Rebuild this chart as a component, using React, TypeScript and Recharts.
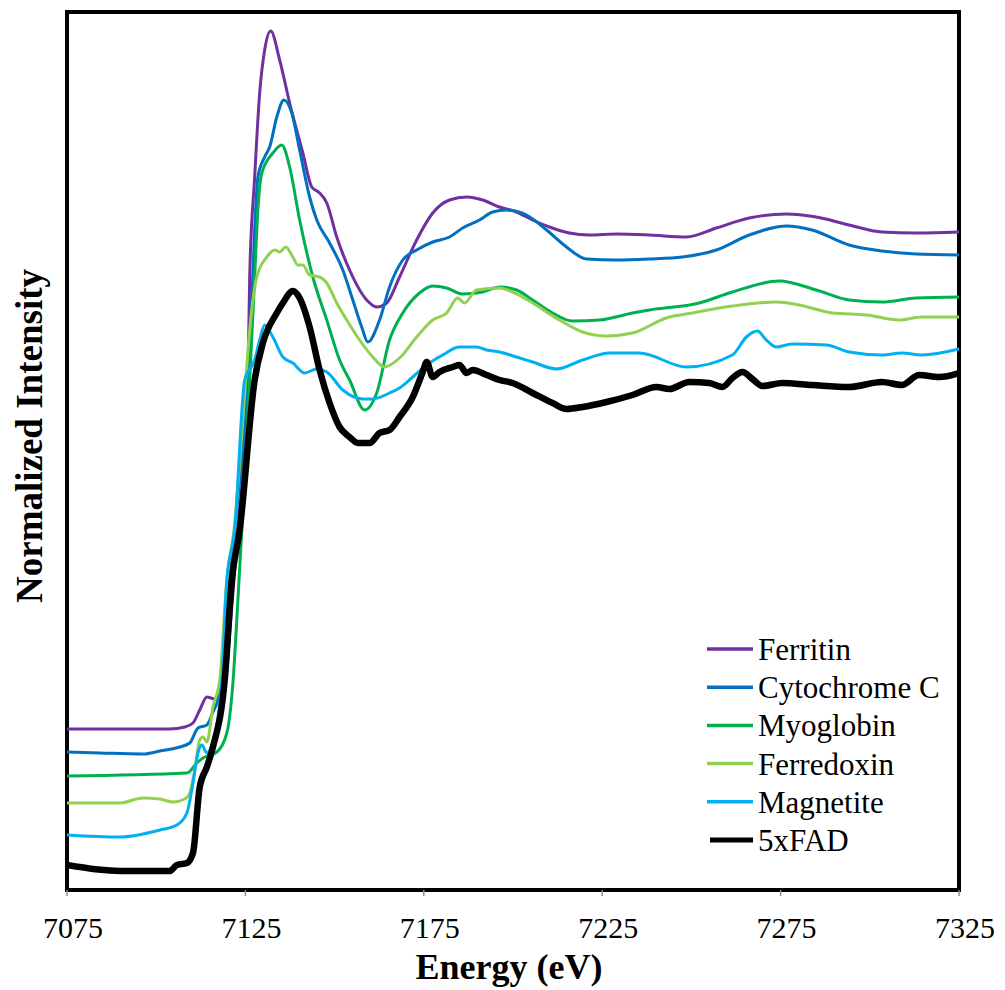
import React from 'react';
import { LineChart, Line, XAxis, YAxis, ReferenceArea, Legend } from 'recharts';

// Energy (eV) / normalized intensity (arbitrary offset units) per series
const ferritinE = [7075, 7103.8, 7108.0, 7110.3, 7112.2, 7114.2, 7116.4, 7117.8, 7119.8, 7120.6, 7122.9, 7125.7, 7126.2, 7127.6, 7129.0, 7130.4, 7132.1, 7134.6, 7137.4, 7141.1, 7143.6, 7145.8, 7147.8, 7150.6, 7154.2, 7159.0, 7161.8, 7164.6, 7168.2, 7173.0, 7177.5, 7182.2, 7187.0, 7191.5, 7196.2, 7201.0, 7205.5, 7210.2, 7215.8, 7221.4, 7229.0, 7238.2, 7248.6, 7257.0, 7266.2, 7276.6, 7285.0, 7294.2, 7303.4, 7313.0, 7325];
const ferritinI = [16.1, 16.1, 16.3, 16.7, 18.0, 19.3, 19.1, 19.5, 22.3, 25.7, 36.0, 51.0, 61.3, 71.3, 79.7, 84.0, 85.9, 83.0, 78.7, 73.7, 70.3, 69.7, 68.7, 65.3, 62.0, 59.0, 58.3, 58.7, 61.3, 65.0, 67.7, 69.0, 69.3, 69.0, 68.3, 67.8, 67.0, 66.3, 65.7, 65.5, 65.6, 65.5, 65.3, 66.2, 67.2, 67.6, 67.3, 66.5, 65.8, 65.7, 65.8];

const cytochromeE = [7075, 7084.2, 7096.3, 7101.0, 7106.6, 7109.4, 7111.7, 7114.2, 7115.9, 7117.3, 7118.7, 7120.1, 7122.0, 7125.7, 7126.8, 7127.6, 7128.5, 7130.4, 7131.8, 7133.8, 7135.8, 7138.0, 7140.2, 7143.0, 7145.0, 7148.6, 7152.3, 7155.1, 7157.6, 7159.3, 7162.6, 7165.4, 7169.1, 7173.0, 7177.5, 7182.2, 7185.9, 7190.6, 7194.3, 7198.2, 7203.8, 7209.4, 7215.0, 7220.6, 7229.0, 7238.2, 7247.5, 7257.0, 7266.2, 7276.6, 7283.8, 7294.2, 7303.4, 7313.0, 7325];
const cytochromeI = [13.8, 13.7, 13.6, 13.9, 14.3, 14.7, 16.2, 16.5, 17.8, 19.0, 21.7, 29.0, 36.0, 51.0, 59.0, 66.0, 71.3, 73.3, 74.3, 77.3, 79.0, 77.7, 74.0, 69.3, 67.0, 64.7, 62.0, 59.0, 56.3, 54.8, 57.0, 60.3, 63.0, 64.0, 64.8, 65.3, 66.2, 67.0, 67.8, 68.0, 67.5, 66.0, 64.3, 63.1, 63.0, 63.1, 63.3, 64.0, 65.5, 66.4, 66.0, 64.5, 63.9, 63.6, 63.5];

const myoglobinE = [7075, 7108.6, 7111.4, 7113.1, 7115.0, 7117.0, 7119.8, 7121.5, 7122.9, 7124.0, 7126.2, 7127.6, 7128.5, 7129.6, 7132.7, 7135.2, 7137.4, 7140.2, 7143.9, 7147.8, 7151.4, 7154.2, 7158.4, 7161.8, 7165.4, 7169.1, 7173.8, 7177.5, 7181.4, 7185.9, 7191.5, 7196.2, 7201.0, 7205.5, 7211.1, 7216.7, 7224.2, 7233.5, 7238.2, 7252.2, 7261.5, 7274.6, 7285.0, 7294.2, 7303.4, 7313.0, 7325];
const myoglobinI = [11.4, 11.7, 12.7, 13.2, 13.5, 13.8, 15.7, 20.7, 29.0, 36.0, 51.0, 61.3, 68.0, 71.7, 73.7, 74.5, 72.3, 67.0, 61.3, 57.0, 53.0, 51.0, 48.0, 49.7, 55.0, 57.7, 59.7, 60.4, 60.2, 59.6, 59.8, 60.3, 60.0, 59.0, 57.7, 56.9, 57.0, 57.7, 58.0, 58.7, 59.8, 60.9, 60.0, 59.0, 58.8, 59.2, 59.3];

const ferredoxinE = [7075, 7089.8, 7096.3, 7101.0, 7104.7, 7108.0, 7109.4, 7110.8, 7112.2, 7113.1, 7114.2, 7115.9, 7117.8, 7119.8, 7121.8, 7125.1, 7126.2, 7128.2, 7131.0, 7133.2, 7134.6, 7136.3, 7138.3, 7139.7, 7141.1, 7143.0, 7145.8, 7147.8, 7150.6, 7153.4, 7157.0, 7160.7, 7164.0, 7168.2, 7173.0, 7177.5, 7181.4, 7184.5, 7186.4, 7189.8, 7196.2, 7199.9, 7205.5, 7213.0, 7219.5, 7226.2, 7233.5, 7243.0, 7250.3, 7261.5, 7273.8, 7280.2, 7289.5, 7299.0, 7308.2, 7314.6, 7325];
const ferredoxinI = [8.7, 8.7, 9.2, 9.1, 8.8, 9.1, 9.7, 12.0, 15.0, 15.3, 14.8, 18.3, 21.0, 31.0, 36.0, 51.0, 56.0, 61.3, 63.3, 64.0, 63.8, 64.3, 63.3, 62.5, 62.5, 61.5, 61.3, 60.7, 58.7, 57.0, 55.0, 53.3, 52.3, 53.2, 55.3, 57.0, 57.7, 59.2, 58.7, 60.0, 60.2, 59.8, 58.7, 57.0, 55.8, 55.4, 55.7, 57.2, 57.7, 58.4, 58.8, 58.5, 57.7, 57.5, 57.0, 57.3, 57.3];

const magnetiteE = [7075, 7089.8, 7101.0, 7105.8, 7108.6, 7110.3, 7111.7, 7112.8, 7114.2, 7115.6, 7118.4, 7119.8, 7122.0, 7124.8, 7127.6, 7129.0, 7130.4, 7132.7, 7135.5, 7138.3, 7141.6, 7145.0, 7147.8, 7152.3, 7157.9, 7160.7, 7165.4, 7168.2, 7171.9, 7175.8, 7180.3, 7185.0, 7189.8, 7192.6, 7196.2, 7201.0, 7205.5, 7212.2, 7219.5, 7227.0, 7235.4, 7248.6, 7261.5, 7265.4, 7268.5, 7271.0, 7273.8, 7278.3, 7287.8, 7294.2, 7303.4, 7309.0, 7314.6, 7325];
const magnetiteI = [5.5, 5.3, 6.0, 6.5, 7.7, 10.7, 13.7, 14.5, 13.7, 14.5, 21.0, 31.0, 36.0, 51.0, 53.0, 55.0, 56.5, 55.3, 53.3, 52.7, 51.7, 52.1, 51.8, 50.0, 49.1, 49.1, 49.7, 50.2, 51.3, 52.5, 53.5, 54.3, 54.3, 54.0, 53.8, 53.3, 52.8, 52.1, 53.0, 53.7, 53.7, 52.3, 53.5, 55.3, 55.9, 55.0, 54.3, 54.6, 54.5, 53.8, 53.5, 53.7, 53.5, 54.1];

const fadE = [7075, 7089.8, 7103.8, 7105.8, 7108.6, 7110.3, 7112.2, 7114.2, 7115.9, 7119.2, 7121.2, 7123.4, 7127.6, 7129.9, 7133.8, 7135.5, 7138.3, 7140.2, 7143.0, 7145.8, 7148.6, 7151.4, 7154.2, 7156.5, 7159.8, 7162.6, 7165.4, 7168.2, 7171.9, 7174.7, 7175.8, 7177.5, 7179.4, 7183.1, 7185.0, 7187.0, 7188.7, 7192.6, 7196.2, 7199.9, 7205.5, 7211.1, 7215.0, 7219.5, 7226.2, 7233.5, 7240.2, 7243.8, 7249.4, 7255.0, 7258.7, 7261.5, 7264.3, 7267.1, 7269.9, 7275.5, 7283.8, 7294.2, 7303.4, 7309.0, 7313.8, 7319.4, 7325];
const fadI = [2.5, 1.9, 1.9, 2.5, 2.7, 3.7, 10.3, 12.3, 14.3, 21.0, 31.0, 36.0, 51.0, 54.7, 57.7, 58.7, 59.9, 59.2, 56.3, 52.0, 48.7, 46.3, 45.3, 44.7, 44.7, 45.7, 46.0, 47.3, 49.3, 51.8, 52.8, 51.3, 51.8, 52.3, 52.5, 51.7, 52.0, 51.5, 51.0, 50.7, 49.7, 48.7, 48.1, 48.3, 48.8, 49.5, 50.3, 50.1, 50.8, 50.7, 50.3, 51.2, 51.8, 51.1, 50.4, 50.7, 50.5, 50.3, 50.8, 50.5, 51.5, 51.3, 51.7];

const xTicks = [7075, 7125, 7175, 7225, 7275, 7325];
const seriesNames = ['Ferritin', 'Cytochrome C', 'Myoglobin', 'Ferredoxin', 'Magnetite', '5xFAD'];
const seriesColors = ['#7030A0', '#0070C0', '#00B050', '#92D050', '#00B0F0', '#000000'];
const seriesWidths = [3, 3, 3, 3, 3, 6.5];

const toData = (es: number[], vs: number[]) => es.map((e, i) => ({ e, v: vs[i] }));
const seriesData = [
  toData(ferritinE, ferritinI),
  toData(cytochromeE, cytochromeI),
  toData(myoglobinE, myoglobinI),
  toData(ferredoxinE, ferredoxinI),
  toData(magnetiteE, magnetiteI),
  toData(fadE, fadI),
];

const FONT = '"Liberation Serif", "Times New Roman", Times, serif';
const Y_MAX = 87.8;

const renderLegend = () => (
  <svg width={270} height={240} style={{ display: 'block' }}>
    {seriesNames.map((name, i) => {
      const cy = 24 + i * 38.2;
      return (
        <g key={name}>
          <line
            x1={i === 5 ? 10 : 7}
            x2={53}
            y1={cy}
            y2={cy}
            stroke={seriesColors[i]}
            strokeWidth={i === 5 ? 5 : 3.5}
          />
          <text x={58} y={cy + 11} fontFamily={FONT} fontSize={31} fill="#000">
            {name}
          </text>
        </g>
      );
    })}
  </svg>
);

const XLabel = (props: any) => {
  const vb = props.viewBox || { x: 67, y: 890, width: 891 };
  return (
    <text
      x={vb.x + vb.width / 2 - 4}
      y={vb.y + 89}
      textAnchor="middle"
      fontFamily={FONT}
      fontWeight="bold"
      fontSize={36}
      fill="#000"
    >
      Energy (eV)
    </text>
  );
};

const YLabel = () => (
  <text
    x={42}
    y={436}
    transform="rotate(-90, 42, 436)"
    textAnchor="middle"
    fontFamily={FONT}
    fontWeight="bold"
    fontSize={37}
    fill="#000"
  >
    Normalized Intensity
  </text>
);

export default function App() {
  return (
    <div style={{ position: 'absolute', left: 0, top: 0, width: 1005, height: 990, background: '#fff' }}>
      <LineChart width={1005} height={990} margin={{ top: 12, right: 46, left: 66, bottom: 10 }}>
        <XAxis
          type="number"
          dataKey="e"
          domain={[7075, 7325]}
          ticks={xTicks}
          allowDataOverflow
          height={90}
          axisLine={false}
          tickLine={{ stroke: '#8c8c8c', strokeWidth: 1.5 }}
          tickSize={6}
          tickMargin={21}
          tick={{ fontFamily: FONT, fontSize: 30, fill: '#000', dx: 6 }}
          label={<XLabel />}
        />
        <YAxis
          type="number"
          domain={[0, Y_MAX]}
          width={1}
          tick={false}
          axisLine={false}
          tickLine={false}
          allowDataOverflow
          label={<YLabel />}
        />
        {seriesData.map((d, i) => (
          <Line
            key={seriesNames[i]}
            data={d}
            dataKey="v"
            name={seriesNames[i]}
            type="monotone"
            stroke={seriesColors[i]}
            strokeWidth={seriesWidths[i]}
            dot={false}
            activeDot={false}
            isAnimationActive={false}
            strokeLinejoin="round"
          />
        ))}
        <ReferenceArea
          x1={7075}
          x2={7325}
          y1={0}
          y2={Y_MAX}
          fill="none"
          fillOpacity={0}
          stroke="#000"
          strokeWidth={4}
          ifOverflow="visible"
        />
        <Legend
          layout="vertical"
          align="center"
          verticalAlign="middle"
          content={renderLegend}
          wrapperStyle={{ left: 700, top: 625, width: 270, height: 240 }}
        />
      </LineChart>
    </div>
  );
}
